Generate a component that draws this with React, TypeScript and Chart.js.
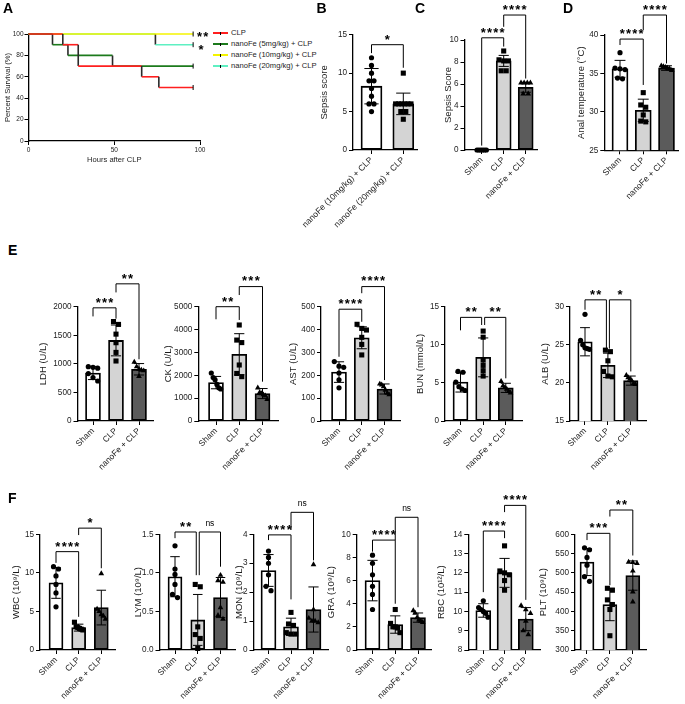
import React, { useEffect, useRef } from "react";
import { Chart, registerables } from "chart.js";

Chart.register(...registerables);

const FONT = '"Liberation Sans", Arial, Helvetica, sans-serif';
const INK = "#1c1c1c";
const TICK_SIZE = 8.2;
const TITLE_SIZE = 9.5;
const CAT_SIZE = 8.5;

// ---------------- Panel A: survival ----------------
const clpHours = [0, 20, 29, 66, 76, 96];
const clpSurvival = [100, 90, 70, 60, 50, 50];
const fe5Hours = [0, 14, 23, 49, 96];
const fe5Survival = [100, 90, 80, 70, 70];
const fe10Hours = [0, 96];
const fe10Survival = [100, 100];
const fe20Hours = [0, 74, 96];
const fe20Survival = [100, 90, 90];
const survivalNames = ["CLP", "nanoFe (5mg/kg) + CLP", "nanoFe (10mg/kg) + CLP", "nanoFe (20mg/kg) + CLP"];
const survivalColors = ["#ff1f1f", "#1c7a1c", "#f4f400", "#5ef0c2"];

// ---------------- Groups ----------------
const doseGroups = ["nanoFe (10mg/kg) + CLP", "nanoFe (20mg/kg) + CLP"];
const shamGroups = ["Sham", "CLP", "nanoFe + CLP"];

// ---------------- Panel B ----------------
const bMean = [8.3, 6.0];
const bSD = [2.3, 1.4];
const bPoints = [
  [12, 11, 10, 9, 9, 8, 7, 6, 6, 5],
  [10, 6, 6, 6, 6, 6, 6, 5, 5, 4],
];
const bBrackets = [{ from: 0, to: 1, line: 13.7, legFrom: 12.6, legTo: 10.7, label: "*" }];

// ---------------- Panel C ----------------
const cMean = [0, 8.1, 5.7];
const cSD = [0, 0.5, 0.45];
const cPoints = [
  [0, 0, 0, 0, 0, 0],
  [9, 8.2, 8.1, 8.1, 7.2, 7.2],
  [6.1, 6.1, 6.1, 6.1, 5.1, 5.1],
];
const cBrackets = [
  { from: 0, to: 1, line: 10.2, legFrom: 0.4, legTo: 9.4, label: "****" },
  { from: 1, to: 2, line: 12.27, legFrom: 11.2, legTo: 6.5, label: "****" },
];

// ---------------- Panel D ----------------
const dMean = [35.6, 30.2, 35.7];
const dSD = [1.1, 1.45, 0.3];
const dPoints = [
  [37.7, 35.7, 35.6, 35.5, 34.4, 34.3],
  [32.5, 30.9, 30.6, 29.6, 28.8, 28.7],
  [36.0, 35.9, 35.8, 35.7, 35.6, 35.4],
];
const dBrackets = [
  { from: 0, to: 1, line: 39.47, legFrom: 38.7, legTo: 33.5, label: "****" },
  { from: 1, to: 2, line: 42.6, legFrom: 40.65, legTo: 36.3, label: "****" },
];

// ---------------- Panel E ----------------
const ldhMean = [840, 1410, 905];
const ldhSD = [115, 270, 100];
const ldhPoints = [
  [950, 940, 925, 830, 760, 700],
  [1740, 1690, 1520, 1370, 1200, 1050],
  [1030, 950, 910, 890, 880, 780],
];
const ldhBrackets = [
  { from: 0, to: 1, line: 1980, legFrom: 1830, legTo: 1790, label: "***" },
  { from: 1, to: 2, line: 2400, legFrom: 2250, legTo: 1080, label: "**" },
];

const ckMean = [1680, 2920, 1200];
const ckSD = [270, 900, 220];
const ckPoints = [
  [2100, 1900, 1800, 1600, 1450, 1400],
  [4200, 3540, 3430, 2450, 2080, 1940],
  [1450, 1250, 1200, 1150, 1100, 950],
];
const ckBrackets = [
  { from: 0, to: 1, line: 5000, legFrom: 4450, legTo: 4420, label: "**" },
  { from: 1, to: 2, line: 5880, legFrom: 5510, legTo: 1720, label: "***" },
];

const astMean = [214, 364, 140];
const astSD = [45, 48, 22];
const astPoints = [
  [260, 240, 235, 210, 180, 145],
  [423, 405, 398, 366, 335, 289],
  [162, 158, 150, 135, 122, 115],
];
const astBrackets = [
  { from: 0, to: 1, line: 489, legFrom: 281, legTo: 434, label: "****" },
  { from: 1, to: 2, line: 588, legFrom: 559, legTo: 179, label: "****" },
];

const bunMean = [5.1, 8.35, 4.35];
const bunSD = [1.3, 2.55, 0.6];
const bunPoints = [
  [6.5, 6.4, 5.1, 4.5, 4.2, 4.0],
  [11.8, 11.0, 8.0, 7.3, 6.6, 5.9],
  [5.2, 4.6, 4.4, 4.2, 3.9, 3.7],
];
const bunBrackets = [
  { from: 0, to: 1, line: 13.6, legFrom: 11.9, legTo: 12.6, label: "**" },
  { from: 1, to: 2, line: 13.6, legFrom: 12.6, legTo: 5.6, label: "**" },
];

const albMean = [25.4, 22.3, 20.3];
const albSD = [1.85, 1.6, 0.6];
const albPoints = [
  [29.0, 25.6, 25.0, 24.6, 24.5, 24.4],
  [24.3, 24.1, 22.9, 21.5, 20.9, 20.8],
  [21.0, 20.7, 20.5, 20.3, 19.9, 19.8],
];
const albBrackets = [
  { from: 0, to: 1, line: 30.9, legFrom: 29.6, legTo: 24.5, label: "**" },
  { from: 1, to: 2, line: 30.9, legFrom: 24.5, legTo: 21.5, label: "*" },
];

// ---------------- Panel F ----------------
const wbcMean = [8.7, 2.9, 5.5];
const wbcSD = [2.0, 0.45, 2.25];
const wbcPoints = [
  [10.8, 10.5, 9.6, 8.5, 7.4, 5.6],
  [3.6, 3.0, 2.9, 2.8, 2.7, 2.6],
  [9.9, 5.3, 5.0, 4.6, 4.4, 4.0],
];
const wbcBrackets = [
  { from: 0, to: 1, line: 12.75, legFrom: 11.3, legTo: 4.3, label: "****" },
  { from: 1, to: 2, line: 15.8, legFrom: 14.9, legTo: 10.6, label: "*" },
];

const lymMean = [0.95, 0.39, 0.68];
const lymSD = [0.26, 0.33, 0.26];
const lymPoints = [
  [1.35, 1.05, 0.98, 0.85, 0.72, 0.68],
  [0.85, 0.82, 0.3, 0.2, 0.15, 0.02],
  [0.97, 0.9, 0.88, 0.55, 0.45, 0.4],
];
const lymBrackets = [
  { from: 0, to: 1, line: 1.53, legFrom: 1.45, legTo: 0.97, label: "**" },
  { from: 1, to: 2, line: 1.53, legFrom: 0.97, legTo: 1.08, label: "ns" },
];

const monMean = [2.75, 0.8, 1.4];
const monSD = [0.55, 0.3, 0.78];
const monPoints = [
  [3.42, 3.2, 3.0, 2.6, 2.2, 2.05],
  [1.3, 0.9, 0.85, 0.6, 0.55, 0.55],
  [2.95, 1.4, 1.1, 1.0, 1.0, 0.95],
];
const monBrackets = [
  { from: 0, to: 1, line: 3.98, legFrom: 3.8, legTo: 1.75, label: "****" },
  { from: 1, to: 2, line: 4.76, legFrom: 4.15, legTo: 3.1, label: "ns" },
];

const graMean = [6.0, 2.2, 2.8];
const graSD = [1.75, 0.75, 0.4];
const graPoints = [
  [8.2, 7.5, 6.5, 5.5, 4.8, 3.5],
  [3.5, 2.3, 2.0, 2.0, 1.9, 1.5],
  [3.4, 3.2, 2.8, 2.6, 2.5, 2.4],
];
const graBrackets = [
  { from: 0, to: 1, line: 9.5, legFrom: 8.5, legTo: 4.0, label: "****" },
  { from: 1, to: 2, line: 11.47, legFrom: 9.5, legTo: 3.7, label: "ns" },
];

const rbcMean = [10.05, 12.0, 9.6];
const rbcSD = [0.35, 0.75, 0.6];
const rbcPoints = [
  [10.55, 10.2, 10.1, 10.0, 9.9, 9.7],
  [13.4, 12.1, 12.0, 11.9, 11.6, 11.1],
  [10.3, 10.1, 9.9, 9.5, 9.0, 8.8],
];
const rbcBrackets = [
  { from: 0, to: 1, line: 14.17, legFrom: 11.0, legTo: 13.8, label: "****" },
  { from: 1, to: 2, line: 15.5, legFrom: 15.15, legTo: 10.6, label: "****" },
];

const pltMean = [528, 418, 493];
const pltSD = [35, 42, 38];
const pltPoints = [
  [565, 560, 540, 520, 490, 478],
  [460, 455, 430, 418, 405, 337],
  [528, 527, 525, 505, 451, 425],
];
const pltBrackets = [
  { from: 0, to: 1, line: 602.5, legFrom: 585, legTo: 468, label: "***" },
  { from: 1, to: 2, line: 663, legFrom: 646, legTo: 545, label: "**" },
];

// ---------------- Panel specs (built from the arrays above) ----------------
const barSpecs: any[] = [
  { key: "B", title: "Sepsis score", groups: doseGroups, mean: bMean, sd: bSD, pts: bPoints, yMin: 0, yMax: 15, yStep: 5, brackets: bBrackets },
  { key: "C", title: "Sepsis Score", groups: shamGroups, mean: cMean, sd: cSD, pts: cPoints, yMin: 0, yMax: 10, yStep: 2, brackets: cBrackets },
  { key: "D", title: "Anal temperature (\u00B0C)", groups: shamGroups, mean: dMean, sd: dSD, pts: dPoints, yMin: 25, yMax: 40, yStep: 5, brackets: dBrackets },
  { key: "LDH", title: "LDH (U/L)", groups: shamGroups, mean: ldhMean, sd: ldhSD, pts: ldhPoints, yMin: 0, yMax: 2000, yStep: 500, brackets: ldhBrackets },
  { key: "CK", title: "CK (U/L)", groups: shamGroups, mean: ckMean, sd: ckSD, pts: ckPoints, yMin: 0, yMax: 5000, yStep: 1000, brackets: ckBrackets },
  { key: "AST", title: "AST (U/L)", groups: shamGroups, mean: astMean, sd: astSD, pts: astPoints, yMin: 0, yMax: 500, yStep: 100, brackets: astBrackets },
  { key: "BUN", title: "BUN (mmol/L)", groups: shamGroups, mean: bunMean, sd: bunSD, pts: bunPoints, yMin: 0, yMax: 15, yStep: 5, brackets: bunBrackets },
  { key: "ALB", title: "ALB (U/L)", groups: shamGroups, mean: albMean, sd: albSD, pts: albPoints, yMin: 15, yMax: 30, yStep: 5, brackets: albBrackets },
  { key: "WBC", title: "WBC (10\u2079/L)", groups: shamGroups, mean: wbcMean, sd: wbcSD, pts: wbcPoints, yMin: 0, yMax: 15, yStep: 5, brackets: wbcBrackets },
  { key: "LYM", title: "LYM (10\u2079/L)", groups: shamGroups, mean: lymMean, sd: lymSD, pts: lymPoints, yMin: 0, yMax: 1.5, yStep: 0.5, decimals: 1, brackets: lymBrackets },
  { key: "MON", title: "MON (10\u2079/L)", groups: shamGroups, mean: monMean, sd: monSD, pts: monPoints, yMin: 0, yMax: 4, yStep: 1, brackets: monBrackets },
  { key: "GRA", title: "GRA (10\u2079/L)", groups: shamGroups, mean: graMean, sd: graSD, pts: graPoints, yMin: 0, yMax: 10, yStep: 2, brackets: graBrackets },
  { key: "RBC", title: "RBC (10\u00B9\u00B2/L)", groups: shamGroups, mean: rbcMean, sd: rbcSD, pts: rbcPoints, yMin: 8, yMax: 14, yStep: 1, brackets: rbcBrackets },
  { key: "PLT", title: "PLT (10\u2079/L)", groups: shamGroups, mean: pltMean, sd: pltSD, pts: pltPoints, yMin: 300, yMax: 600, yStep: 50, brackets: pltBrackets },
];

// ---------------- Layout (pixel boxes) ----------------
const ROW1 = 0, ROW2 = 262, ROW3 = 490;
const boxes: Record<string, any> = {
  B: { axisX: 353, axisEnd: 417, c0: 371.5, cN: 403.3, yTop: 34.7, yBot: 150, barW: 21, titleX: 324, top: ROW1 },
  C: { axisX: 464.5, axisEnd: 537, c0: 481.7, cN: 525.7, yTop: 40, yBot: 150, barW: 15, titleX: 448.3, top: ROW1 },
  D: { axisX: 604.3, axisEnd: 678, c0: 620, cN: 666.5, yTop: 35, yBot: 150.3, barW: 16, titleX: 581.7, top: ROW1 },
  LDH: { axisX: 77.5, axisEnd: 153, c0: 93, cN: 139, yTop: 306.7, yBot: 421, barW: 15, titleX: 43.3, top: ROW2 },
  CK: { axisX: 198.3, axisEnd: 278, c0: 216, cN: 262.5, yTop: 306.7, yBot: 421, barW: 15, titleX: 168.3, top: ROW2 },
  AST: { axisX: 321, axisEnd: 400, c0: 339, cN: 384.5, yTop: 306.7, yBot: 421, barW: 15, titleX: 293.3, top: ROW2 },
  BUN: { axisX: 445, axisEnd: 522.7, c0: 460.5, cN: 505.8, yTop: 306.7, yBot: 421, barW: 15, titleX: 420, top: ROW2 },
  ALB: { axisX: 570, axisEnd: 646, c0: 585, cN: 630.8, yTop: 306.7, yBot: 421, barW: 14.5, titleX: 545, top: ROW2 },
  WBC: { axisX: 40, axisEnd: 115, c0: 56, cN: 101.3, yTop: 534.3, yBot: 650, barW: 14, titleX: 16, top: ROW3 },
  LYM: { axisX: 159.5, axisEnd: 235, c0: 175, cN: 220.5, yTop: 534.3, yBot: 650, barW: 14, titleX: 138, top: ROW3 },
  MON: { axisX: 253.5, axisEnd: 328.5, c0: 268.5, cN: 313.5, yTop: 534.3, yBot: 650, barW: 15, titleX: 239, top: ROW3 },
  GRA: { axisX: 356.7, axisEnd: 431, c0: 372.5, cN: 418, yTop: 534.3, yBot: 650, barW: 15, titleX: 331, top: ROW3 },
  RBC: { axisX: 468.3, axisEnd: 540, c0: 483.3, cN: 525.8, yTop: 534.3, yBot: 650, barW: 15, titleX: 441.7, top: ROW3 },
  PLT: { axisX: 575, axisEnd: 646.7, c0: 587, cN: 632.8, yTop: 534.3, yBot: 650, barW: 14, titleX: 543, top: ROW3 },
};

const FILLS = ["#ffffff", "#d4d4d4", "#5b5b5b"];
const MARKERS = ["circle", "rect", "triangle"];
const MARKER_R = [2.6, 3.6, 3.3];

function drawMark(ctx: CanvasRenderingContext2D, label: string, cx: number, cy: number) {
  ctx.fillStyle = "#000";
  ctx.textAlign = "center";
  ctx.textBaseline = "alphabetic";
  if (/^\*+$/.test(label)) {
    ctx.font = `bold 13px ${FONT}`;
    const adv = 6.3;
    for (let i = 0; i < label.length; i++) {
      ctx.fillText("*", cx + (i - (label.length - 1) / 2) * adv, cy + 7.4);
    }
  } else {
    ctx.font = `8.5px ${FONT}`;
    ctx.fillText(label, cx, cy + 2.6);
  }
}

// deterministic side-by-side spreading of points with (nearly) equal values
function spreadOffsets(vals: number[], tol: number, step: number, maxHalf: number): number[] {
  const order = vals.map((_, i) => i).sort((a, b) => vals[b] - vals[a]);
  const offs = new Array(vals.length).fill(0);
  let cluster: number[] = [];
  const flush = () => {
    const m = cluster.length;
    const st = m > 1 ? Math.min(step, (2 * maxHalf) / (m - 1)) : 0;
    cluster.forEach((idx, k) => {
      offs[idx] = (k - (m - 1) / 2) * st;
    });
  };
  for (const idx of order) {
    if (cluster.length && vals[cluster[cluster.length - 1]] - vals[idx] > tol) {
      flush();
      cluster = [];
    }
    cluster.push(idx);
  }
  flush();
  return offs;
}

const axisGrid = {
  display: true,
  drawOnChartArea: false,
  drawTicks: true,
  tickLength: 4,
  color: "#000",
  tickColor: "#000",
  lineWidth: 1,
  offset: false,
};
const axisBorder = { display: true, color: "#000", width: 1.3 };

function BarPanel({ spec, box }: { spec: any; box: any }) {
  const ref = useRef<HTMLCanvasElement | null>(null);
  const lh = TITLE_SIZE * 1.2;
  const yW = box.axisX - box.titleX + lh / 2;
  const left = Math.floor(box.axisX - yW - 75);
  const padL = box.axisX - yW - left;
  const width = Math.ceil(box.axisEnd + 14 - left);
  const padR = left + width - box.axisEnd;
  const X_H = 100;
  const height = Math.ceil(box.yBot - box.top + X_H);
  const padB = height - X_H - (box.yBot - box.top);
  const padT = box.yTop - box.top;

  useEffect(() => {
    const canvas = ref.current;
    if (!canvas) return;
    const n = spec.groups.length;
    const sp = (box.cN - box.c0) / (n - 1);
    const xMin = -(box.c0 - box.axisX) / sp;
    const xMax = n - 1 + (box.axisEnd - box.cN) / sp;
    const tol = (5 * (spec.yMax - spec.yMin)) / (box.yBot - box.yTop);
    const maxHalf = (box.barW / 2 - 2.8) / sp;
    const step = 5 / sp;

    const scatterSets = spec.pts.map((vals: number[], gi: number) => {
      const offs = spreadOffsets(vals, tol, step, maxHalf);
      return {
        type: "scatter",
        data: vals.map((v, k) => ({ x: gi + offs[k], y: v })),
        pointStyle: MARKERS[gi],
        pointRadius: MARKER_R[gi],
        pointHoverRadius: MARKER_R[gi],
        pointBackgroundColor: "#000",
        pointBorderColor: "#000",
        pointBorderWidth: 0,
        clip: false,
        order: 1,
      };
    });

    const overlay = {
      id: "overlay" + spec.key,
      afterDatasetsDraw(chart: any) {
        const xs = chart.scales.x;
        const ys = chart.scales.y;
        const ctx = chart.ctx as CanvasRenderingContext2D;
        ctx.save();
        ctx.strokeStyle = "#000";
        ctx.lineWidth = 1;
        spec.mean.forEach((m: number, i: number) => {
          const s = spec.sd[i];
          if (!s) return;
          const x = xs.getPixelForValue(i);
          const y1 = ys.getPixelForValue(m + s);
          const y2 = ys.getPixelForValue(m - s);
          const h = box.barW * 0.34;
          ctx.beginPath();
          ctx.moveTo(x, y1);
          ctx.lineTo(x, y2);
          ctx.moveTo(x - h, y1);
          ctx.lineTo(x + h, y1);
          ctx.moveTo(x - h, y2);
          ctx.lineTo(x + h, y2);
          ctx.stroke();
        });
        spec.brackets.forEach((br: any) => {
          const insA = spec.brackets.some((o: any) => o !== br && o.to === br.from && Math.abs(o.line - br.line) < 1e-9) ? 1.5 : 0;
          const insB = spec.brackets.some((o: any) => o !== br && o.from === br.to && Math.abs(o.line - br.line) < 1e-9) ? 1.5 : 0;
          const xa = xs.getPixelForValue(br.from) + insA;
          const xb = xs.getPixelForValue(br.to) - insB;
          const yl = ys.getPixelForValue(br.line);
          ctx.beginPath();
          ctx.moveTo(xa, ys.getPixelForValue(br.legFrom));
          ctx.lineTo(xa, yl);
          ctx.lineTo(xb, yl);
          ctx.lineTo(xb, ys.getPixelForValue(br.legTo));
          ctx.stroke();
          drawMark(ctx, br.label, (xa + xb) / 2, yl - 8.5);
        });
        ctx.restore();
      },
    };

    const chart = new Chart(canvas, {
      type: "bar",
      data: {
        datasets: [
          {
            type: "bar",
            data: spec.mean.map((m: number, i: number) => ({ x: i, y: m })),
            backgroundColor: FILLS.slice(0, n),
            borderColor: "#000",
            borderWidth: 1.8,
            borderSkipped: false,
            barThickness: box.barW,
            order: 2,
          },
          ...scatterSets,
        ],
      } as any,
      options: {
        responsive: false,
        animation: false,
        devicePixelRatio: 1,
        events: [],
        layout: { padding: { left: padL, right: padR, top: padT, bottom: padB } },
        plugins: { legend: { display: false }, tooltip: { enabled: false } },
        scales: {
          x: {
            type: "linear",
            min: xMin,
            max: xMax,
            offset: false,
            afterBuildTicks: (s: any) => {
              s.ticks = spec.groups.map((_: string, i: number) => ({ value: i }));
            },
            afterFit: (s: any) => {
              s.height = X_H;
              s.paddingLeft = 0;
              s.paddingRight = 0;
            },
            ticks: {
              autoSkip: false,
              minRotation: 45,
              maxRotation: 45,
              padding: 1,
              color: INK,
              font: { family: FONT, size: CAT_SIZE },
              callback: (v: any) => spec.groups[Math.round(Number(v))] ?? "",
            },
            grid: axisGrid,
            border: axisBorder,
          },
          y: {
            type: "linear",
            min: spec.yMin,
            max: spec.yMax,
            afterFit: (s: any) => {
              s.width = yW;
              s.paddingTop = 0;
              s.paddingBottom = 0;
            },
            ticks: {
              stepSize: spec.yStep,
              padding: 2,
              color: INK,
              font: { family: FONT, size: TICK_SIZE },
              callback: (v: any) => (spec.decimals ? Number(v).toFixed(spec.decimals) : String(v)),
            },
            title: {
              display: true,
              text: spec.title,
              color: INK,
              padding: 0,
              font: { family: FONT, size: TITLE_SIZE },
            },
            grid: axisGrid,
            border: axisBorder,
          },
        },
      } as any,
      plugins: [overlay],
    });
    return () => chart.destroy();
  }, []);

  return (
    <canvas
      ref={ref}
      width={width}
      height={height}
      style={{ position: "absolute", left, top: box.top, width, height }}
    />
  );
}

function stepPoints(hours: number[], surv: number[]) {
  const pts = [{ x: hours[0], y: surv[0] }];
  for (let i = 1; i < hours.length; i++) {
    if (surv[i] !== surv[i - 1]) pts.push({ x: hours[i], y: surv[i - 1] });
    pts.push({ x: hours[i], y: surv[i] });
  }
  return pts;
}

function SurvivalPanel() {
  const ref = useRef<HTMLCanvasElement | null>(null);
  const W = 212;
  const H = 170;
  const xH = 23;
  const padT = 34;
  const padB = H - xH - 141;

  useEffect(() => {
    const canvas = ref.current;
    if (!canvas) return;
    const series = [
      { hours: clpHours, surv: clpSurvival },
      { hours: fe5Hours, surv: fe5Survival },
      { hours: fe10Hours, surv: fe10Survival },
      { hours: fe20Hours, surv: fe20Survival },
    ];
    const marks = {
      id: "survMarks",
      afterDatasetsDraw(chart: any) {
        const xs = chart.scales.x;
        const ys = chart.scales.y;
        const ctx = chart.ctx as CanvasRenderingContext2D;
        ctx.save();
        const xEnd = xs.getPixelForValue(fe10Hours[fe10Hours.length - 1]);
        drawMark(ctx, "**", xEnd + 9.5, ys.getPixelForValue(fe10Survival[fe10Survival.length - 1]));
        drawMark(ctx, "*", xEnd + 8, ys.getPixelForValue(fe20Survival[fe20Survival.length - 1]) + 2);
        ctx.restore();
      },
    };
    const chart = new Chart(canvas, {
      type: "line",
      data: {
        datasets: series.map((s, i) => {
          const pts = stepPoints(s.hours, s.surv);
          const col = survivalColors[i];
          return {
            label: survivalNames[i],
            data: pts,
            borderColor: col,
            borderWidth: 1.6,
            tension: 0,
            clip: false,
            pointStyle: "line",
            pointRotation: 90,
            pointRadius: (c: any) => (c.dataIndex === pts.length - 1 ? 2.5 : 0),
            pointBorderColor: "#000",
            pointBorderWidth: 1,
            segment: {
              borderColor: (c: any) => (c.p0.parsed.x === c.p1.parsed.x ? "#2a2a2a" : col),
            },
          };
        }),
      } as any,
      options: {
        responsive: false,
        animation: false,
        devicePixelRatio: 1,
        events: [],
        layout: { padding: { left: 3, right: 12, top: padT, bottom: padB } },
        plugins: { legend: { display: false }, tooltip: { enabled: false } },
        scales: {
          x: {
            type: "linear",
            min: 0,
            max: 100,
            afterFit: (s: any) => {
              s.height = xH;
              s.paddingLeft = 0;
              s.paddingRight = 0;
            },
            ticks: { stepSize: 50, padding: 1, color: INK, font: { family: FONT, size: 6.5 } },
            title: { display: true, text: "Hours after CLP", color: INK, padding: 0, font: { family: FONT, size: 7.6 } },
            grid: axisGrid,
            border: axisBorder,
          },
          y: {
            type: "linear",
            min: 0,
            max: 100,
            afterFit: (s: any) => {
              s.width = 25.5;
              s.paddingTop = 0;
              s.paddingBottom = 0;
            },
            ticks: { stepSize: 20, padding: 1, color: INK, font: { family: FONT, size: 6.5 } },
            title: { display: true, text: "Percent Survival (%)", color: INK, padding: 0, font: { family: FONT, size: 7.6 } },
            grid: axisGrid,
            border: axisBorder,
          },
        },
      } as any,
      plugins: [marks],
    });
    return () => chart.destroy();
  }, []);

  return <canvas ref={ref} width={W} height={H} style={{ position: "absolute", left: 0, top: 0, width: W, height: H }} />;
}

function SurvivalLegend() {
  return (
    <>
      {survivalNames.map((name, i) => {
        const y = 33 + i * 11;
        return (
          <React.Fragment key={name}>
            <div style={{ position: "absolute", left: 213, top: y - 0.8, width: 15, height: 1.6, background: survivalColors[i] }} />
            <div style={{ position: "absolute", left: 220, top: y - 1.5, width: 1, height: 3, background: "#000" }} />
            <div
              style={{
                position: "absolute",
                left: 231,
                top: y - 5,
                height: 10,
                lineHeight: "10px",
                fontSize: 7.6,
                fontFamily: FONT,
                color: INK,
                whiteSpace: "nowrap",
              }}
            >
              {name}
            </div>
          </React.Fragment>
        );
      })}
    </>
  );
}

const panelLetters = [
  { t: "A", x: 3, y: 1.4 },
  { t: "B", x: 316.5, y: 1 },
  { t: "C", x: 415, y: 1 },
  { t: "D", x: 563, y: 1 },
  { t: "E", x: 8, y: 243 },
  { t: "F", x: 8, y: 491.4 },
];

export default function App() {
  return (
    <div
      style={{
        position: "fixed",
        left: 0,
        top: 0,
        width: 685,
        height: 704,
        overflow: "hidden",
        background: "#ffffff",
        fontFamily: FONT,
      }}
    >
      <SurvivalPanel />
      <SurvivalLegend />
      {barSpecs.map((s) => (
        <BarPanel key={s.key} spec={s} box={boxes[s.key]} />
      ))}
      {panelLetters.map((p) => (
        <div
          key={p.t}
          style={{
            position: "absolute",
            left: p.x,
            top: p.y,
            fontFamily: FONT,
            fontWeight: "bold",
            fontSize: 14,
            lineHeight: "14px",
            color: "#000",
          }}
        >
          {p.t}
        </div>
      ))}
    </div>
  );
}
